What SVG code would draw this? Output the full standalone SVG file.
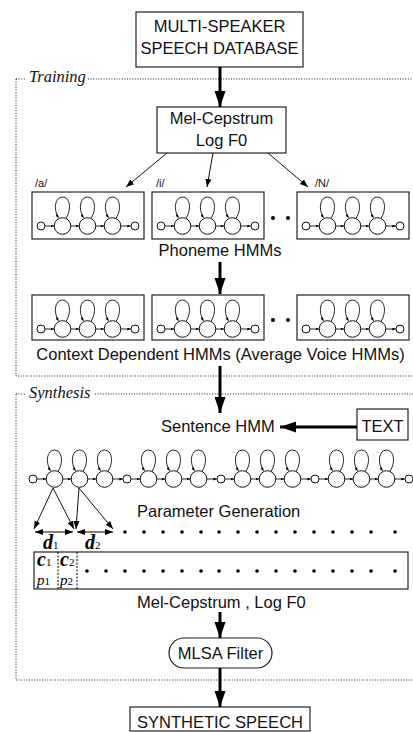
<svg xmlns="http://www.w3.org/2000/svg" xmlns:xlink="http://www.w3.org/1999/xlink" width="413" height="732" viewBox="0 0 413 732">
<style>
.box{fill:#fff;stroke:#222;stroke-width:1.2}
.t{font-family:"Liberation Sans",Arial,sans-serif;font-size:16.5px;fill:#111}
.ts{font-family:"Liberation Sans",Arial,sans-serif;font-size:11px;fill:#111}
.it{font-family:"Liberation Serif","Times New Roman",serif;font-style:italic;font-size:16.5px;fill:#111}
.frame{fill:none;stroke:#222;stroke-width:1;stroke-dasharray:1 1.6}
.thick{stroke:#000;stroke-width:3;fill:none;marker-end:url(#bigHead)}
.thin{stroke:#111;stroke-width:1;fill:none;marker-end:url(#head)}
.tr{stroke:#111;stroke-width:0.9;fill:none;marker-end:url(#tiny)}
.st{fill:#fff;stroke:#111;stroke-width:1}
.dot{fill:#000}
.d{font-family:"Liberation Serif","Times New Roman",serif;font-style:italic;font-weight:bold;font-size:20px;fill:#000}
.sub{font-family:"Liberation Serif","Times New Roman",serif;font-style:normal;font-weight:normal;font-size:11px;fill:#000}
.p{font-family:"Liberation Serif","Times New Roman",serif;font-style:italic;font-size:15px;fill:#000}
</style>
<defs>
<marker id="bigHead" markerUnits="userSpaceOnUse" markerWidth="18" markerHeight="12" refX="16" refY="5.5" orient="auto"><path d="M0,0 L16,5.5 L0,11 z" fill="#000"/></marker>
<marker id="head" markerUnits="userSpaceOnUse" markerWidth="10" markerHeight="8" refX="8" refY="3" orient="auto"><path d="M0,0 L8,3 L0,6 z" fill="#000"/></marker>
<marker id="dhead" markerUnits="userSpaceOnUse" markerWidth="10" markerHeight="8" refX="8" refY="3" orient="auto-start-reverse"><path d="M0,0 L8,3 L0,6 z" fill="#000"/></marker>
<marker id="tiny" markerUnits="userSpaceOnUse" markerWidth="5" markerHeight="4" refX="3.5" refY="1.5" orient="auto"><path d="M0,0 L3.5,1.5 L0,3 z" fill="#000"/></marker>
<g id="seg">
<line class="tr" x1="4" y1="0" x2="13" y2="0"/>
<line class="tr" x1="29.8" y1="0" x2="38" y2="0"/>
<line class="tr" x1="54.8" y1="0" x2="63" y2="0"/>
<line class="tr" x1="79.8" y1="0" x2="89.8" y2="0"/>
<circle class="st" cx="21.5" cy="0" r="8.3"/>
<circle class="st" cx="46.5" cy="0" r="8.3"/>
<circle class="st" cx="71.5" cy="0" r="8.3"/>
<path class="tr" d="M25,-7.5 C31,-17 29,-29 21.5,-29 C14,-29 12,-17 17.5,-8.2"/>
<path class="tr" d="M50,-7.5 C56,-17 54,-29 46.5,-29 C39,-29 37,-17 42.5,-8.2"/>
<path class="tr" d="M75,-7.5 C81,-17 79,-29 71.5,-29 C64,-29 62,-17 67.5,-8.2"/>
</g>
<g id="hmm">
<use xlink:href="#seg"/>
<circle class="st" cx="0" cy="0" r="4"/>
<circle class="st" cx="94" cy="0" r="4"/>
</g>
</defs>
<rect width="413" height="732" fill="#fff"/>

<g id="frames">
<path class="frame" d="M16,79 H25 M88,79 H413 M16,79 V376 H413"/>
<text class="it" x="29" y="82">Training</text>
<path class="frame" d="M16,394 H25 M95,394 H413 M16,394 V680 H413"/>
<text class="it" x="29" y="398">Synthesis</text>
</g>

<g id="database">
<rect class="box" x="136" y="12" width="167" height="55"/>
<text class="t" x="219.5" y="32" text-anchor="middle">MULTI-SPEAKER</text>
<text class="t" x="219.5" y="54" text-anchor="middle">SPEECH DATABASE</text>
</g>

<g id="melcep">
<rect class="box" x="157" y="107" width="129" height="46"/>
<text class="t" x="221.5" y="124" text-anchor="middle">Mel-Cepstrum</text>
<text class="t" x="221.5" y="146" text-anchor="middle">Log F0</text>
</g>

<g id="phoneme-hmms">
<text class="ts" x="35" y="187">/a/</text>
<text class="ts" x="156" y="187">/i/</text>
<text class="ts" x="315" y="187">/N/</text>
<rect class="box" x="32" y="192" width="112" height="47"/>
<use xlink:href="#hmm" x="41" y="226"/>
<rect class="box" x="152" y="192" width="112" height="47"/>
<use xlink:href="#hmm" x="161" y="226"/>
<rect class="box" x="297" y="192" width="112" height="47"/>
<use xlink:href="#hmm" x="306" y="226"/>
<circle class="dot" cx="273" cy="218" r="2"/>
<circle class="dot" cx="288" cy="218" r="2"/>
<text class="t" x="220" y="256" text-anchor="middle">Phoneme HMMs</text>
</g>

<g id="context-hmms">
<rect class="box" x="32" y="295" width="112" height="45"/>
<use xlink:href="#hmm" x="41" y="329"/>
<rect class="box" x="152" y="295" width="112" height="45"/>
<use xlink:href="#hmm" x="161" y="329"/>
<rect class="box" x="297" y="295" width="112" height="45"/>
<use xlink:href="#hmm" x="306" y="329"/>
<circle class="dot" cx="273" cy="320" r="2"/>
<circle class="dot" cx="288" cy="320" r="2"/>
<text class="t" x="220.5" y="360" text-anchor="middle">Context Dependent HMMs (Average Voice HMMs)</text>
</g>

<g id="sentence-hmm">
<text class="t" x="161" y="432">Sentence HMM</text>
</g>

<g id="text-input">
<rect class="box" x="357" y="409" width="51" height="31"/>
<text class="t" x="382.5" y="432" text-anchor="middle">TEXT</text>
</g>

<g id="sentence-chain">
<use xlink:href="#seg" x="33" y="479"/>
<use xlink:href="#seg" x="127" y="479"/>
<use xlink:href="#seg" x="221" y="479"/>
<use xlink:href="#seg" x="315" y="479"/>
<circle class="st" cx="33" cy="479" r="4"/>
<circle class="st" cx="127" cy="479" r="4"/>
<circle class="st" cx="221" cy="479" r="4"/>
<circle class="st" cx="315" cy="479" r="4"/>
<circle class="st" cx="409" cy="479" r="4"/>
</g>

<g id="parameter-generation">
<text class="t" x="137" y="517">Parameter Generation</text>
<line stroke="#000" stroke-width="1" x1="35" y1="532" x2="73" y2="532" marker-start="url(#dhead)" marker-end="url(#dhead)"/>
<line stroke="#000" stroke-width="1" x1="77" y1="532" x2="113" y2="532" marker-start="url(#dhead)" marker-end="url(#dhead)"/>
<g class="dot">
<circle cx="125" cy="532" r="1.8"/><circle cx="144" cy="532" r="1.8"/><circle cx="163" cy="532" r="1.8"/><circle cx="182" cy="532" r="1.8"/><circle cx="201" cy="532" r="1.8"/><circle cx="219" cy="532" r="1.8"/><circle cx="238" cy="532" r="1.8"/><circle cx="257" cy="532" r="1.8"/><circle cx="276" cy="532" r="1.8"/><circle cx="295" cy="532" r="1.8"/><circle cx="314" cy="532" r="1.8"/><circle cx="333" cy="532" r="1.8"/><circle cx="352" cy="532" r="1.8"/><circle cx="371" cy="532" r="1.8"/><circle cx="395" cy="532" r="1.8"/>
</g>
<text class="d" x="43" y="549">d<tspan class="sub">1</tspan></text>
<text class="d" x="85" y="549">d<tspan class="sub">2</tspan></text>
</g>

<g id="parameter-sequence">
<rect class="box" x="34" y="552" width="374" height="37"/>
<line stroke="#000" stroke-width="1" stroke-dasharray="2 1.5" x1="58" y1="552" x2="58" y2="589"/>
<line stroke="#000" stroke-width="1" stroke-dasharray="2 1.5" x1="77" y1="552" x2="77" y2="589"/>
<text class="d" font-size="16" x="37" y="566">c<tspan class="sub">1</tspan></text>
<text class="d" font-size="16" x="60" y="566">c<tspan class="sub">2</tspan></text>
<text class="p" x="37" y="585">p<tspan class="sub">1</tspan></text>
<text class="p" x="60" y="585">p<tspan class="sub">2</tspan></text>
<g class="dot">
<circle cx="87" cy="571" r="1.8"/><circle cx="106" cy="571" r="1.8"/><circle cx="125" cy="571" r="1.8"/><circle cx="144" cy="571" r="1.8"/><circle cx="163" cy="571" r="1.8"/><circle cx="182" cy="571" r="1.8"/><circle cx="201" cy="571" r="1.8"/><circle cx="219" cy="571" r="1.8"/><circle cx="238" cy="571" r="1.8"/><circle cx="257" cy="571" r="1.8"/><circle cx="276" cy="571" r="1.8"/><circle cx="295" cy="571" r="1.8"/><circle cx="314" cy="571" r="1.8"/><circle cx="333" cy="571" r="1.8"/><circle cx="352" cy="571" r="1.8"/><circle cx="371" cy="571" r="1.8"/><circle cx="395" cy="571" r="1.8"/>
</g>
<text class="t" x="137" y="608">Mel-Cepstrum , Log F0</text>
</g>

<g id="mlsa">
<rect class="box" x="169" y="638" width="103" height="30" rx="15" ry="15"/>
<text class="t" x="220.5" y="659" text-anchor="middle">MLSA Filter</text>
</g>

<g id="synthetic">
<rect class="box" x="130" y="707" width="180" height="24"/>
<text class="t" x="220" y="728" text-anchor="middle">SYNTHETIC SPEECH</text>
</g>

<g id="connectors">
<line class="thick" x1="220" y1="67" x2="220" y2="107"/>
<line class="thin" x1="167" y1="153" x2="126" y2="187"/>
<line class="thin" x1="213" y1="153" x2="207" y2="187"/>
<line class="thin" x1="268" y1="153" x2="308" y2="187"/>
<line class="thick" x1="220" y1="262" x2="220" y2="294"/>
<line class="thick" x1="220" y1="366" x2="220" y2="413"/>
<line class="thick" x1="357" y1="427" x2="280" y2="427"/>
<line class="thin" x1="53" y1="488" x2="34" y2="529"/>
<line class="thin" x1="53" y1="488" x2="74" y2="529"/>
<line class="thin" x1="79" y1="488" x2="76" y2="529"/>
<line class="thin" x1="79" y1="488" x2="113" y2="529"/>
<line class="thick" x1="220" y1="612" x2="220" y2="638"/>
<line class="thick" x1="220" y1="668" x2="220" y2="707"/>
</g>
</svg>
